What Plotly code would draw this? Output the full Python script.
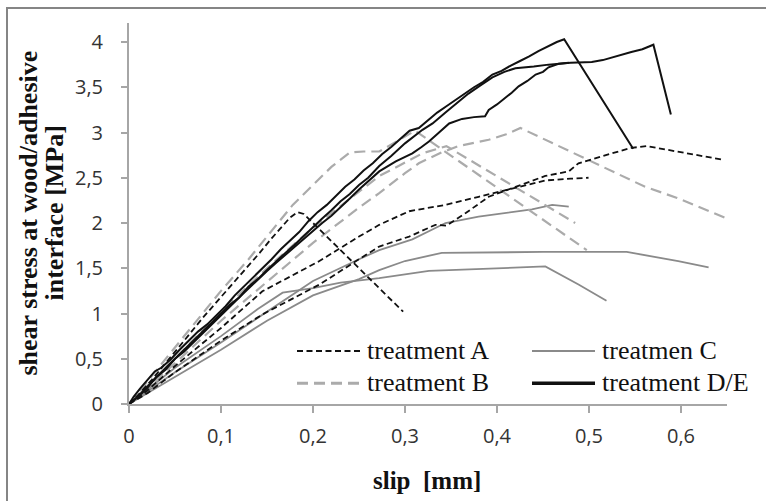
import plotly.graph_objects as go

# ---------------- data ----------------
# treatment A (black, short dashes)
a1_x = [0, 0.01, 0.025, 0.04, 0.06, 0.08, 0.1, 0.12, 0.142, 0.155, 0.165, 0.175, 0.183, 0.19, 0.298]
a1_y = [0, 0.1, 0.27, 0.45, 0.7, 0.95, 1.18, 1.42, 1.67, 1.83, 1.95, 2.06, 2.12, 2.10, 1.02]
a2_x = [0, 0.02, 0.05, 0.1, 0.145, 0.207, 0.25, 0.272, 0.3045, 0.344, 0.38, 0.4235, 0.4525, 0.48, 0.4995]
a2_y = [0, 0.15, 0.42, 0.84, 1.245, 1.58, 1.85, 1.98, 2.13, 2.20, 2.29, 2.40, 2.47, 2.49, 2.50]
a3_x = [0, 0.02, 0.05, 0.1, 0.145, 0.207, 0.25, 0.272, 0.3045, 0.333, 0.345, 0.366, 0.391, 0.4235,
        0.4525, 0.478, 0.4886, 0.525, 0.546, 0.5627, 0.595, 0.645]
a3_y = [0, 0.12, 0.35, 0.70, 0.99, 1.32, 1.60, 1.74, 1.85, 1.98, 1.97, 2.11, 2.29, 2.41,
        2.52, 2.57, 2.66, 2.77, 2.83, 2.85, 2.79, 2.70]

# treatment B (light grey, long dashes)
b1_x = [0, 0.02, 0.05, 0.08, 0.1, 0.13, 0.15, 0.178, 0.2, 0.22, 0.24, 0.255, 0.272, 0.29, 0.311, 0.4976]
b1_y = [0, 0.25, 0.62, 1.0, 1.25, 1.6, 1.85, 2.2, 2.42, 2.62, 2.78, 2.79, 2.79, 2.9, 3.02, 1.70]
b2_x = [0, 0.02, 0.05, 0.1, 0.15, 0.2, 0.25, 0.272, 0.3, 0.315, 0.34, 0.358, 0.391, 0.41, 0.4254,
        0.4525, 0.4886, 0.525, 0.561, 0.595, 0.65]
b2_y = [0, 0.18, 0.45, 0.92, 1.35, 1.78, 2.17, 2.33, 2.55, 2.66, 2.78, 2.85, 2.92, 2.98, 3.05,
        2.92, 2.74, 2.57, 2.40, 2.28, 2.05]
b3_x = [0, 0.02, 0.05, 0.1, 0.15, 0.2, 0.25, 0.272, 0.293, 0.319, 0.345, 0.485]
b3_y = [0, 0.2, 0.5, 1.02, 1.5, 1.95, 2.35, 2.52, 2.63, 2.77, 2.85, 2.0]

# treatment C (grey, solid)
c1_x = [0, 0.05, 0.1, 0.15, 0.2, 0.25, 0.272, 0.308, 0.344, 0.38, 0.409, 0.438, 0.46, 0.478]
c1_y = [0, 0.35, 0.68, 1.02, 1.36, 1.6, 1.70, 1.82, 2.0, 2.07, 2.11, 2.15, 2.20, 2.18]
c2_x = [0, 0.05, 0.1, 0.15, 0.2, 0.25, 0.272, 0.3, 0.34, 0.45, 0.541, 0.597, 0.63]
c2_y = [0, 0.3, 0.6, 0.92, 1.2, 1.38, 1.48, 1.58, 1.67, 1.68, 1.68, 1.58, 1.51]
c3_x = [0, 0.05, 0.1, 0.14, 0.167, 0.2, 0.23, 0.272, 0.326, 0.38, 0.4525, 0.4886, 0.519]
c3_y = [0, 0.4, 0.75, 1.05, 1.23, 1.28, 1.34, 1.39, 1.47, 1.49, 1.52, 1.32, 1.14]

# treatment D/E (black, solid)
d1_x = [0, 0.005, 0.012, 0.02, 0.028, 0.035, 0.045, 0.055, 0.065, 0.075, 0.085, 0.095, 0.105, 0.115,
        0.125, 0.135, 0.145, 0.155, 0.165, 0.175, 0.185, 0.195, 0.205, 0.215, 0.225, 0.235, 0.245,
        0.255, 0.265, 0.275, 0.285, 0.295, 0.305, 0.315, 0.325, 0.335, 0.345, 0.355, 0.365, 0.375,
        0.385, 0.395, 0.405, 0.415, 0.425, 0.435, 0.445, 0.455, 0.465, 0.473, 0.548]
d1_y = [0, 0.08, 0.17, 0.26, 0.36, 0.40, 0.49, 0.6, 0.70, 0.80, 0.88, 0.98, 1.08, 1.2,
        1.30, 1.39, 1.5, 1.6, 1.71, 1.80, 1.90, 2.02, 2.12, 2.2, 2.30, 2.40, 2.48,
        2.58, 2.66, 2.76, 2.84, 2.93, 3.02, 3.05, 3.14, 3.22, 3.29, 3.36, 3.44, 3.50,
        3.56, 3.64, 3.68, 3.74, 3.79, 3.84, 3.90, 3.95, 4.00, 4.03, 2.82]
d2_x = [0, 0.008, 0.018, 0.03, 0.04, 0.05, 0.06, 0.07, 0.08, 0.09, 0.1, 0.11, 0.12, 0.13, 0.14, 0.15,
        0.16, 0.17, 0.18, 0.19, 0.2, 0.21, 0.22, 0.23, 0.24, 0.25, 0.26, 0.272, 0.285, 0.3, 0.319,
        0.33, 0.344, 0.356, 0.369, 0.382, 0.395, 0.408, 0.42, 0.44, 0.456, 0.48, 0.503, 0.515,
        0.525, 0.535, 0.546, 0.558, 0.57, 0.589]
d2_y = [0, 0.07, 0.17, 0.3, 0.38, 0.5, 0.58, 0.68, 0.78, 0.88, 0.99, 1.08, 1.18, 1.30, 1.38, 1.48,
        1.58, 1.67, 1.76, 1.86, 1.96, 2.05, 2.14, 2.24, 2.32, 2.42, 2.5, 2.63, 2.74, 2.88, 3.03,
        3.10, 3.22, 3.32, 3.43, 3.52, 3.61, 3.67, 3.71, 3.73, 3.75, 3.77, 3.78, 3.80,
        3.83, 3.86, 3.89, 3.92, 3.97, 3.20]
d3_x = [0, 0.01, 0.02, 0.03, 0.04, 0.05, 0.06, 0.07, 0.08, 0.09, 0.1, 0.11, 0.12, 0.13, 0.14, 0.15,
        0.16, 0.17, 0.18, 0.19, 0.2, 0.21, 0.22, 0.23, 0.24, 0.25, 0.26, 0.272, 0.29, 0.308, 0.318,
        0.326, 0.337, 0.348, 0.362, 0.375, 0.387, 0.391, 0.40, 0.409, 0.416, 0.4235, 0.433, 0.442,
        0.45, 0.456, 0.467, 0.478]
d3_y = [0, 0.08, 0.18, 0.3, 0.4, 0.5, 0.6, 0.69, 0.8, 0.9, 0.99, 1.1, 1.18, 1.28, 1.38, 1.47,
        1.56, 1.65, 1.74, 1.83, 1.92, 2.0, 2.08, 2.17, 2.27, 2.37, 2.46, 2.57, 2.68, 2.77, 2.84,
        2.90, 3.0, 3.10, 3.15, 3.17, 3.18, 3.25, 3.31, 3.38, 3.44, 3.51, 3.57, 3.64,
        3.67, 3.72, 3.76, 3.77]

x_ticks = [0, 0.1, 0.2, 0.3, 0.4, 0.5, 0.6]
y_ticks = [0, 0.5, 1, 1.5, 2, 2.5, 3, 3.5, 4]
legend_labels = ["treatment A", "treatmen C", "treatment B", "treatment D/E"]

# ---------------- styles ----------------
BLACK = "#111111"
GREY_B = "#ababab"
GREY_C = "#8a8a8a"
AXIS = "#a6a6a6"
style_a = dict(color=BLACK, width=1.8, dash="6px,3.5px")
style_b = dict(color=GREY_B, width=2.2, dash="11px,6px")
style_c = dict(color=GREY_C, width=1.8)
style_d = dict(color=BLACK, width=2)

fig = go.Figure()
series = [
    (c1_x, c1_y, style_c), (c2_x, c2_y, style_c), (c3_x, c3_y, style_c),
    (b1_x, b1_y, style_b), (b2_x, b2_y, style_b), (b3_x, b3_y, style_b),
    (a1_x, a1_y, style_a), (a2_x, a2_y, style_a), (a3_x, a3_y, style_a),
    (d1_x, d1_y, style_d), (d2_x, d2_y, style_d), (d3_x, d3_y, style_d),
]
for xs, ys, st in series:
    fig.add_trace(go.Scatter(x=xs, y=ys, mode="lines", line=st, showlegend=False,
                             hoverinfo="skip"))

L, R, T, B = 129, 39, 23, 97
W, H = 766, 501
pw, ph = W - L - R, H - T - B


def px(xp):
    return (xp - L) / pw


def py(yp):
    return (H - B - yp) / ph


tick_font = dict(family="Open Sans, Lato, sans-serif", size=20, color="#333333")
fig.update_layout(
    width=W, height=H,
    margin=dict(l=L, r=R, t=T, b=B, pad=0),
    paper_bgcolor="white", plot_bgcolor="white",
    separators=", ",
    xaxis=dict(range=[0, 0.65], tickvals=x_ticks, showgrid=False, zeroline=False,
               showline=True, linecolor=AXIS, linewidth=2, ticks="outside", ticklen=7,
               tickcolor=AXIS, tickwidth=2, tickfont=tick_font, ticklabelstandoff=6),
    yaxis=dict(range=[0, 4.21], tickvals=y_ticks, showgrid=False, zeroline=False,
               showline=True, linecolor=AXIS, linewidth=2, ticks="outside", ticklen=6,
               tickcolor=AXIS, tickwidth=2, tickfont=tick_font, ticklabelstandoff=14),
)

serif = "Liberation Serif, Times New Roman, serif"
annotations = [
    dict(text="<b>slip  [mm]</b>", x=px(427), y=py(480), font=dict(family=serif, size=25, color=BLACK)),
    dict(text="<b>shear stress at wood/adhesive</b>", x=px(28), y=py(213.5), textangle=-90,
         font=dict(family=serif, size=26, color=BLACK)),
    dict(text="<b>interface [MPa]</b>", x=px(54), y=py(213.5), textangle=-90,
         font=dict(family=serif, size=26, color=BLACK)),
]
for a in annotations:
    a.update(xref="paper", yref="paper", showarrow=False, xanchor="center", yanchor="middle")

# legend (custom, to match long line samples)
leg_rows = [351, 383.3]
leg_cols = [(297, 361, 365), (532, 595, 600)]
leg_styles = [dict(color=BLACK, width=2, dash="6px,3.5px"), dict(color=GREY_C, width=2),
              dict(color=GREY_B, width=3, dash="11px,6px"), dict(color=BLACK, width=3.5)]
shapes = []
for i, lab in enumerate(legend_labels):
    r, c = divmod(i, 2)
    x0, x1, xt = leg_cols[c]
    yy = leg_rows[r]
    shapes.append(dict(type="line", xref="paper", yref="paper", x0=px(x0), x1=px(x1),
                       y0=py(yy), y1=py(yy), line=leg_styles[i]))
    annotations.append(dict(text=lab, xref="paper", yref="paper", x=px(xt), y=py(yy - 1),
                            xanchor="left", yanchor="middle", showarrow=False,
                            font=dict(family=serif, size=26, color=BLACK)))

# chart-area border (left and top visible in the reference)
shapes.append(dict(type="rect", xref="paper", yref="paper", x0=px(7), x1=px(775),
                   y0=py(510), y1=py(8), line=dict(color="#858585", width=2),
                   fillcolor="rgba(0,0,0,0)", layer="below"))

fig.update_layout(annotations=annotations, shapes=shapes)
fig.write_html("out.html")
